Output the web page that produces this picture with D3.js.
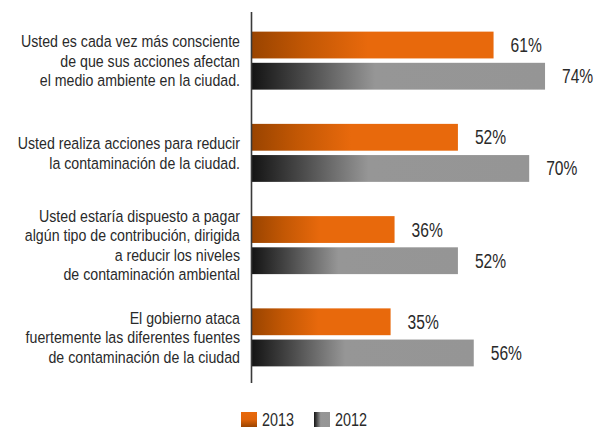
<!DOCTYPE html>
<html>
<head>
<meta charset="utf-8">
<script src="https://cdn.jsdelivr.net/npm/d3@7"></script>
<style>
  body { margin: 0; background: #fff; }
  svg text { font-family: "Liberation Sans", Arial, sans-serif; fill: #2a2a2a; }
</style>
</head>
<body>
<script>

var categories = [
  ["Usted es cada vez más consciente", "de que sus acciones afectan", "el medio ambiente en la ciudad."],
  ["Usted realiza acciones para reducir", "la contaminación de la ciudad."],
  ["Usted estaría dispuesto a pagar", "algún tipo de contribución, dirigida", "a reducir los niveles", "de contaminación ambiental"],
  ["El gobierno ataca", "fuertemente las diferentes fuentes", "de contaminación de la ciudad"]
];
var series = ["2013", "2012"];
var values2013 = [61, 52, 36, 35];
var values2012 = [74, 70, 52, 56];

var width = 595, height = 429;
var narrow = 0.8;      // squeeze value text to mimic a condensed face
var narrowCat = 0.86;  // category labels

var svg = d3.select("body").append("svg")
    .attr("width", width)
    .attr("height", height);

// gradients
var defs = svg.append("defs");
var gOrange = defs.append("linearGradient").attr("id", "grad2013")
    .attr("x1", "0").attr("x2", "1").attr("y1", "0").attr("y2", "0");
gOrange.append("stop").attr("offset", "0").attr("stop-color", "#9a4400");
gOrange.append("stop").attr("offset", "0.22").attr("stop-color", "#c25704");
gOrange.append("stop").attr("offset", "0.48").attr("stop-color", "#e8690c");
gOrange.append("stop").attr("offset", "1").attr("stop-color", "#e8690c");

var gGray = defs.append("linearGradient").attr("id", "grad2012")
    .attr("x1", "0").attr("x2", "1").attr("y1", "0").attr("y2", "0");
gGray.append("stop").attr("offset", "0").attr("stop-color", "#141414");
gGray.append("stop").attr("offset", "0.18").attr("stop-color", "#4a4a4a");
gGray.append("stop").attr("offset", "0.42").attr("stop-color", "#969696");
gGray.append("stop").attr("offset", "1").attr("stop-color", "#959595");

var gLegOrange = defs.append("linearGradient").attr("id", "leg2013")
    .attr("x1", "0").attr("x2", "0").attr("y1", "0").attr("y2", "1");
gLegOrange.append("stop").attr("offset", "0").attr("stop-color", "#e8690c");
gLegOrange.append("stop").attr("offset", "0.5").attr("stop-color", "#e0640a");
gLegOrange.append("stop").attr("offset", "1").attr("stop-color", "#9a4400");

var fills = { "2013": "url(#grad2013)", "2012": "url(#grad2012)" };
var legendFills = { "2013": "url(#leg2013)", "2012": "url(#grad2012)" };

var x = d3.scaleLinear()
    .domain([0, 100])
    .range([252, 648]);

var y = d3.scaleBand()
    .domain(d3.range(categories.length))
    .range([14.5, 383.5])
    .padding(0);

var inner = d3.scaleBand()
    .domain(series)
    .range([-29, 29])
    .paddingInner(0.14);

var data = [];
categories.forEach(function(c, i) {
  data.push({ cat: i, s: "2013", v: values2013[i] });
  data.push({ cat: i, s: "2012", v: values2012[i] });
});

function center(i) { return y(i) + y.bandwidth() / 2; }

svg.selectAll("rect.bar")
    .data(data)
  .enter().append("rect")
    .attr("class", "bar")
    .attr("x", x(0))
    .attr("y", function(d) { return center(d.cat) + inner(d.s); })
    .attr("width", function(d) { return x(d.v) - x(0); })
    .attr("height", inner.bandwidth())
    .attr("fill", function(d) { return fills[d.s]; });

svg.selectAll("g.val")
    .data(data)
  .enter().append("g")
    .attr("class", "val")
    .attr("transform", function(d) {
      var cy = center(d.cat) + inner(d.s) + inner.bandwidth() / 2;
      return "translate(" + (x(d.v) + 17) + "," + cy + ") scale(" + narrow + ",1)";
    })
  .append("text")
    .attr("dy", "0.36em")
    .attr("font-size", 19.5)
    .text(function(d) { return d.v + "%"; });

// vertical axis line
svg.append("line")
    .attr("x1", x(0) - 0.5).attr("x2", x(0) - 0.5)
    .attr("y1", 12).attr("y2", 383)
    .attr("stroke", "#3a3a3a")
    .attr("stroke-width", 1.6);

// category labels
var lineH = 19.5;
var labels = svg.selectAll("g.cat")
    .data(categories)
  .enter().append("g")
    .attr("class", "cat")
    .attr("transform", function(d, i) { return "translate(240," + center(i) + ") scale(" + narrowCat + ",1)"; })
  .append("text")
    .attr("text-anchor", "end")
    .attr("font-size", 16.5);

labels.each(function(lines) {
  var t = d3.select(this);
  var top = -(lines.length - 1) * lineH / 2;
  lines.forEach(function(l, k) {
    t.append("tspan")
      .attr("x", 0)
      .attr("y", top + k * lineH)
      .attr("dy", "0.36em")
      .text(l);
  });
});

// legend
var legend = svg.selectAll("g.leg")
    .data(series)
  .enter().append("g")
    .attr("class", "leg")
    .attr("transform", function(d, i) { return "translate(" + (241 + i * 73) + ",412)"; });

legend.append("rect")
    .attr("width", 16)
    .attr("height", 15)
    .attr("fill", function(d) { return legendFills[d]; });

legend.append("g")
    .attr("transform", "translate(21,7.5) scale(" + narrow + ",1)")
  .append("text")
    .attr("dy", "0.36em")
    .attr("font-size", 18)
    .text(function(d) { return d; });

</script>
</body>
</html>
